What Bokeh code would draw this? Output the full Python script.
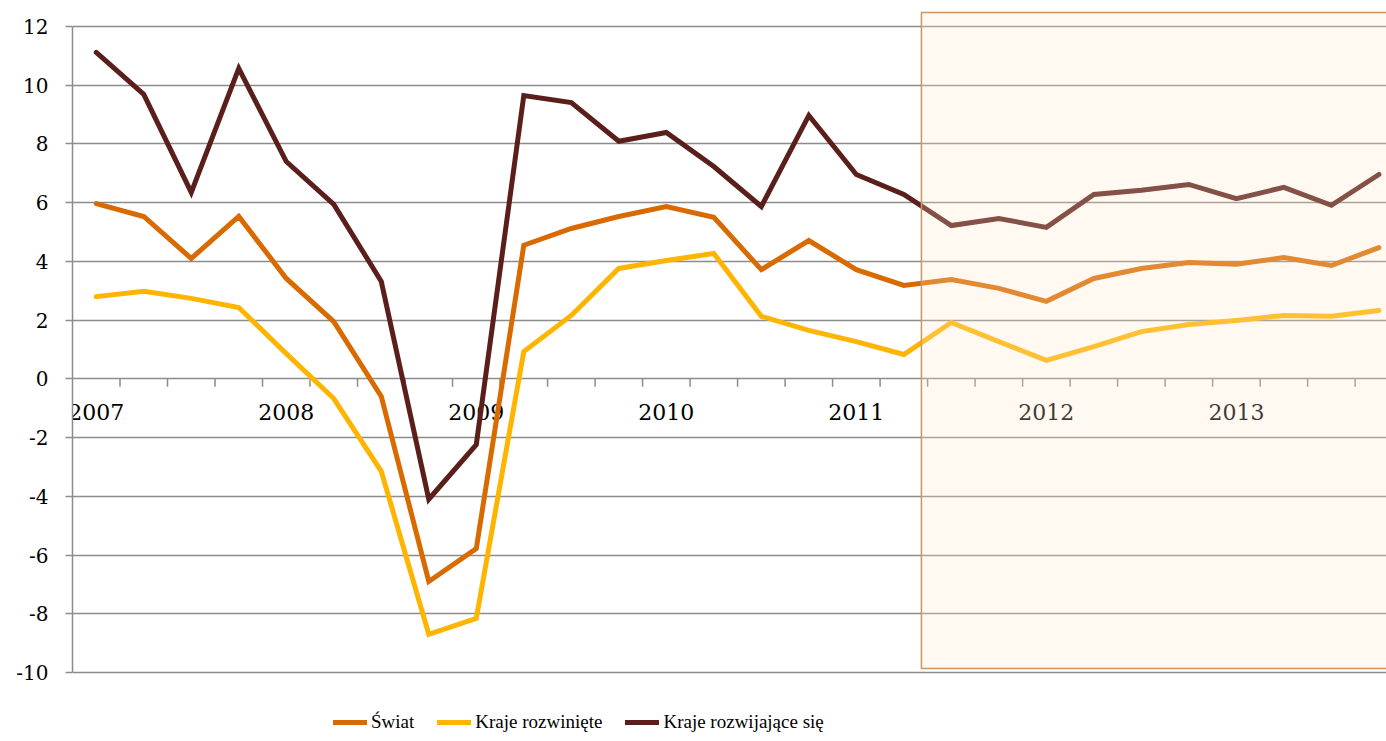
import numpy as np
from bokeh.plotting import figure
from bokeh.models import Legend, LegendItem, FixedTicker, Range1d
from bokeh.core.properties import value
from bokeh.embed import file_html
from bokeh.resources import INLINE

quarters = [f"{y}Q{q}" for y in range(2007, 2014) for q in range(1, 5)]
year_labels = ["2007", "2008", "2009", "2010", "2011", "2012", "2013"]

swiat = [5.97, 5.53, 4.10, 5.53, 3.42, 1.95, -0.60, -6.90, -5.78, 4.55, 5.12, 5.53, 5.87, 5.50,
         3.72, 4.71, 3.72, 3.18, 3.38, 3.08, 2.64, 3.42, 3.76, 3.96, 3.90, 4.13, 3.86, 4.47]
rozwiniete = [2.80, 2.98, 2.74, 2.43, 0.86, -0.67, -3.15, -8.70, -8.16, 0.93, 2.16, 3.76, 4.03, 4.27,
              2.13, 1.65, 1.27, 0.83, 1.92, 1.27, 0.63, 1.10, 1.61, 1.85, 1.99, 2.16, 2.13, 2.33]
rozwijajace = [11.12, 9.69, 6.35, 10.57, 7.40, 5.94, 3.32, -4.10, -2.24, 9.65, 9.41, 8.09, 8.39, 7.23,
               5.87, 8.97, 6.96, 6.28, 5.22, 5.46, 5.16, 6.28, 6.42, 6.62, 6.14, 6.52, 5.91, 6.96]

series_names = ["Świat", "Kraje rozwinięte", "Kraje rozwijające się"]
series_colors = ["#D96A00", "#FFB400", "#5B1F1B"]

y_ticks = list(range(-10, 13, 2))

x = np.arange(len(quarters))
year_x = [quarters.index(y + "Q1") for y in year_labels]
boundaries = x[:-1] + 0.5
forecast_start = 17.37

GRID = "#8C8C8C"

p = figure(width=1386, height=741, output_backend="svg", toolbar_location=None,
           x_range=Range1d(-0.5, 27.16), y_range=Range1d(-12.35, 12.885),
           min_border_left=72, min_border_right=0, min_border_top=0, min_border_bottom=0)
p.outline_line_color = None
p.xaxis.visible = False
p.xgrid.visible = False

p.yaxis.ticker = FixedTicker(ticks=y_ticks)
p.yaxis.major_label_overrides = {t: str(t) for t in y_ticks}
p.yaxis.bounds = (-10, 12)
p.yaxis.axis_line_color = GRID
p.yaxis.axis_line_width = 1.5
p.yaxis.major_tick_line_color = GRID
p.yaxis.major_tick_line_width = 1.5
p.yaxis.major_tick_out = 7
p.yaxis.major_tick_in = 0
p.yaxis.minor_tick_line_color = None
p.yaxis.major_label_standoff = 17
p.yaxis.major_label_text_font = "DejaVu Serif"
p.yaxis.major_label_text_font_size = "20px"
p.yaxis.major_label_text_color = "#000000"
p.ygrid.grid_line_color = GRID
p.ygrid.grid_line_width = 1.5

# x axis ticks at zero line (category boundaries)
p.segment(x0=boundaries, y0=np.zeros_like(boundaries), x1=boundaries,
          y1=np.full_like(boundaries, -0.27), line_color=GRID, line_width=1.5)
p.text(x=year_x, y=[0] * len(year_x), text=year_labels, text_font=value("DejaVu Serif"),
       text_font_size="22px", text_align="center", text_baseline="middle", y_offset=33,
       text_color="#000000")

renderers = []
for vals, col in zip([swiat, rozwiniete, rozwijajace], series_colors):
    r = p.line(x, vals, line_color=col, line_width=5, line_join="miter", line_cap="round")
    renderers.append(r)

# forecast shading (semi-transparent overlay above the lines)
p.quad(left=[forecast_start], right=[28.5], top=[12.477], bottom=[-9.864],
       fill_color="#FFE7CA", fill_alpha=0.25,
       line_color="#C8965F", line_width=1.5, level="overlay")

legend = Legend(items=[LegendItem(label=n, renderers=[r]) for n, r in zip(series_names, renderers)],
                orientation="horizontal", location=(261, 8), padding=0, margin=0,
                spacing=23, glyph_width=34, glyph_height=20, label_standoff=4,
                label_text_font="Liberation Serif", label_text_font_size="19px",
                label_text_color="#000000", background_fill_alpha=0, border_line_color=None)
p.add_layout(legend)

open("out.html", "w").write(file_html(p, INLINE))
